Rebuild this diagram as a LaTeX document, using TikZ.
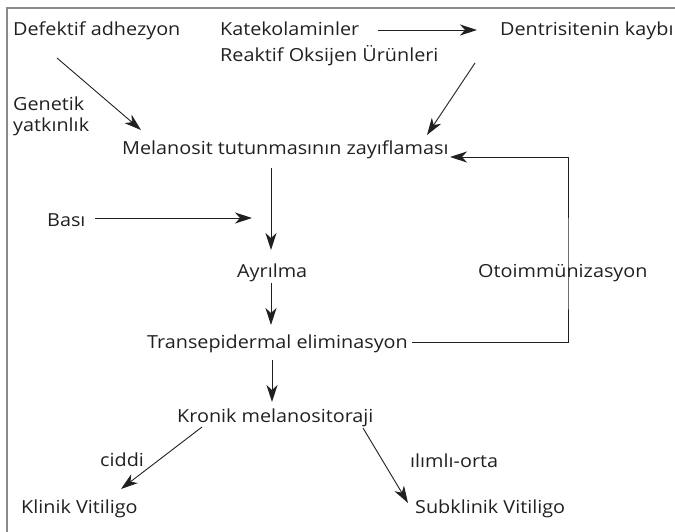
\documentclass[tikz,border=0pt]{standalone}
\usepackage{fontspec}
\setmainfont{Open Sans}[FakeStretch=1.1]
\usetikzlibrary{arrows.meta,calc}
\definecolor{ink}{HTML}{231F20}
\definecolor{framegray}{HTML}{8A8A8A}
\begin{document}
\begin{tikzpicture}[x=1pt,y=-1pt,
  lbl/.style={anchor=base west,inner sep=0pt,text=ink,font=\fontsize{18}{21}\selectfont},
  arr/.style={draw=ink,line width=0.9pt,-{Stealth[length=17pt,width=11pt,inset=5pt]}}]
\useasboundingbox (0,0) rectangle (675,532);
\draw[framegray,line width=1.6pt] (7,532) -- (7,8) -- (675,8);
% nodes
\node[lbl] (def) at (13,36) {Defektif adhezyon};
\node[lbl] (kat) at (220,36) {Katekolaminler};
\node[lbl] (rea) at (220,62) {Reaktif Oksijen Ürünleri};
\node[lbl] (den) at (500,36) {Dentrisitenin kaybı};
\node[lbl] (gen) at (13,111) {Genetik};
\node[lbl] (yat) at (13,132) {yatkınlık};
\node[lbl] (mel) at (122,155) {Melanosit tutunmasının zayıflaması};
\node[lbl] (bas) at (47,226) {Bası};
\node[lbl] (ayr) at (237,277) {Ayrılma};
\node[lbl] (oto) at (478,277) {Otoimmünizasyon};
\node[lbl] (tra) at (147,348) {Transepidermal eliminasyon};
\node[lbl] (kro) at (177,422) {Kronik melanositoraji};
\node[lbl] (cid) at (100,466) {ciddi};
\node[lbl] (ili) at (410,467) {ılımlı-orta};
\node[lbl] (kli) at (21,513) {Klinik Vitiligo};
\node[lbl] (sub) at (415,513) {Subklinik Vitiligo};
% connectors
\draw[arr] ($(def.base west)+(44,22)$) -- ($(mel.base west)+(19,-25)$);
\draw[arr] ($(kat.base west)+(158,-6)$) -- ($(den.base west)+(-23,-6)$);
\draw[arr] ($(den.base west)+(-25,27)$) -- ($(mel.base west)+(305,-20)$);
\draw[arr] ($(mel.base west)+(149,13)$) -- ($(ayr.base west)+(34,-27)$);
\draw[arr] ($(bas.base west)+(48,-8)$) -- ($(ayr.base west)+(15,-59)$);
\draw[arr] ($(ayr.base west)+(34,6)$) -- ($(tra.base west)+(124,-23)$);
\draw[arr] ($(tra.base west)+(125,12)$) -- ($(kro.base west)+(95,-20)$);
\draw[arr] ($(kro.base west)+(25,5)$) -- ($(kli.base west)+(100,-24)$);
\draw[arr] ($(kro.base west)+(186,6)$) -- ($(sub.base west)+(-7,-10)$);
\coordinate (fb) at ($(oto.base west)+(90,0)$);
\draw[arr] ($(tra.base west)+(265,-6)$) -| (fb) |- ($(mel.base west)+(328,2)$);
\end{tikzpicture}
\end{document}
